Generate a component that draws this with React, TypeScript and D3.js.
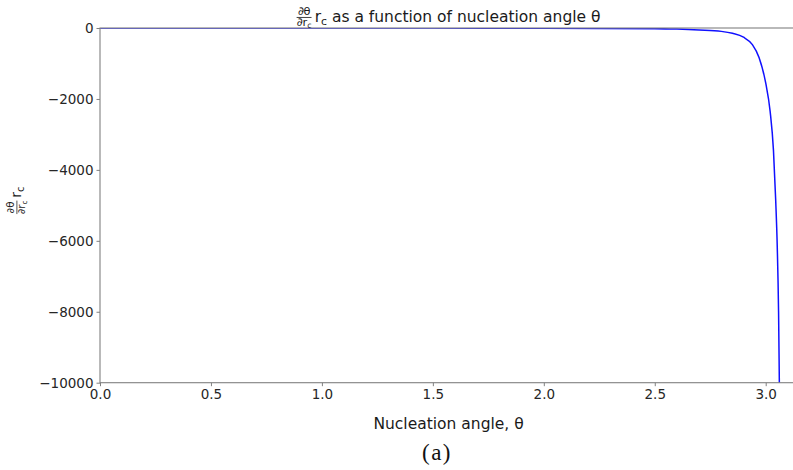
import * as d3 from 'd3'
import { useEffect, useRef } from 'react'

// values
const thetaValues = [0, 0.5, 1.0, 1.5, 2.0, 2.5, 2.6, 2.7, 2.8, 2.85, 2.9, 2.94, 2.97, 3.0, 3.02, 3.035, 3.045, 3.052, 3.058, 3.0615, 3.065]
const drcValues = [0, -1, -2, -3, -5, -18, -30, -55, -95, -150, -260, -470, -830, -1550, -2350, -3450, -4850, -6150, -8000, -10000, -12000]
const xTicks = [0, 0.5, 1.0, 1.5, 2.0, 2.5, 3.0]
const yTicks = [0, -2000, -4000, -6000, -8000, -10000]
const titleText = ' as a function of nucleation angle θ'
const xLabelText = 'Nucleation angle, θ'
const captionText = '(a)'

const W = 793
const H = 470
const FONT = 'DejaVu Sans, sans-serif'
const SPINE = '#808080'

// builds "∂θ/∂r_c r_c" followed by optional text, baseline at 0
function fracLabel(g: any, size: number, tail: string) {
  const s = size / 15
  const fs = 11 * s
  const den = g.append('text')
    .attr('y', 4 * s)
    .attr('font-size', fs)
    .attr('fill', '#1a1a1a')
  den.append('tspan').text('∂r')
  den.append('tspan').attr('font-size', fs * 0.7).attr('dy', 2 * s).text('c')
  const denW = (den.node() as SVGTextElement).getComputedTextLength()
  const num = g.append('text')
    .attr('x', denW / 2)
    .attr('y', -7 * s)
    .attr('text-anchor', 'middle')
    .attr('font-size', fs)
    .attr('fill', '#1a1a1a')
    .text('∂θ')
  const numW = (num.node() as SVGTextElement).getComputedTextLength()
  const fw = Math.max(denW, numW)
  g.append('line')
    .attr('x1', 0).attr('x2', fw)
    .attr('y1', -4.4 * s).attr('y2', -4.4 * s)
    .attr('stroke', '#1a1a1a').attr('stroke-width', 0.8 * s)
  const main = g.append('text')
    .attr('x', fw + 3 * s)
    .attr('font-size', size)
    .attr('fill', '#1a1a1a')
  main.append('tspan').text('r')
  main.append('tspan').attr('font-size', size * 0.7).attr('dy', 3 * s).text('c')
  if (tail) main.append('tspan').attr('dy', -3 * s).text(tail)
  return fw + 3 * s + (main.node() as SVGTextElement).getComputedTextLength()
}

export default function App() {
  const ref = useRef<SVGSVGElement>(null)

  useEffect(() => {
    const svg = d3.select(ref.current)
    svg.selectAll('*').remove()
    svg.attr('font-family', FONT)

    const left = 100
    const top = 28
    const bottom = 382.7
    const x = d3.scaleLinear().domain([0, Math.PI]).range([left, left + Math.PI * 221.9])
    const y = d3.scaleLinear().domain([-10000, 0]).range([bottom, top])
    const right = x(Math.PI)

    svg.append('defs').append('clipPath').attr('id', 'plotclip')
      .append('rect')
      .attr('x', left).attr('y', top)
      .attr('width', right - left).attr('height', bottom - top)

    // curve
    const pts = thetaValues.map((t, i) => [t, drcValues[i]] as [number, number])
    const line = d3.line<[number, number]>()
      .x(d => x(d[0]))
      .y(d => y(d[1]))
      .curve(d3.curveMonotoneX)
    svg.append('path')
      .datum(pts)
      .attr('d', line)
      .attr('fill', 'none')
      .attr('stroke', '#1010ff')
      .attr('stroke-width', 1.5)
      .attr('clip-path', 'url(#plotclip)')

    // x axis
    const gx = svg.append('g')
      .attr('transform', `translate(0,${bottom})`)
      .call(d3.axisBottom(x).tickValues(xTicks).tickSize(3.5).tickPadding(3).tickFormat(d => (d as number).toFixed(1)))
    gx.select('.domain').remove()
    gx.selectAll('.tick line').attr('stroke', SPINE)
    gx.selectAll('.tick text').attr('font-size', 13.5).attr('font-family', FONT).attr('fill', '#262626')

    // y axis
    const gy = svg.append('g')
      .attr('transform', `translate(${left},0)`)
      .call(d3.axisLeft(y).tickValues(yTicks).tickSize(3.5).tickPadding(3).tickFormat(d => String(d).replace('-', '−')))
    gy.select('.domain').remove()
    gy.selectAll('.tick line').attr('stroke', SPINE)
    gy.selectAll('.tick text').attr('font-size', 13.5).attr('font-family', FONT).attr('fill', '#262626')

    // spines
    svg.append('rect')
      .attr('x', left).attr('y', top)
      .attr('width', right - left).attr('height', bottom - top)
      .attr('fill', 'none')
      .attr('stroke', SPINE)
      .attr('stroke-width', 1.1)

    // title
    const tg = svg.append('g')
    const tw = fracLabel(tg, 15.5, titleText)
    tg.attr('transform', `translate(${(left + right) / 2 - tw / 2},22)`)

    // y label
    const yg = svg.append('g')
    const yw = fracLabel(yg, 14, '')
    yg.attr('transform', `translate(21,${(top + bottom) / 2 + yw / 2 - 5}) rotate(-90)`)

    // x label
    svg.append('text')
      .attr('x', (left + right) / 2)
      .attr('y', 429)
      .attr('text-anchor', 'middle')
      .attr('font-size', 15.5)
      .attr('fill', '#1a1a1a')
      .text(xLabelText)

    // caption
    svg.append('text')
      .attr('x', 437)
      .attr('y', 460)
      .attr('text-anchor', 'middle')
      .attr('font-family', 'Liberation Serif, Times New Roman, serif')
      .attr('font-size', 23)
      .attr('letter-spacing', 1.5)
      .attr('fill', '#111')
      .text(captionText)
  }, [])

  return (
    <svg
      ref={ref}
      width={W}
      height={H}
      style={{ position: 'absolute', left: 0, top: 0, background: '#fff' }}
    />
  )
}
